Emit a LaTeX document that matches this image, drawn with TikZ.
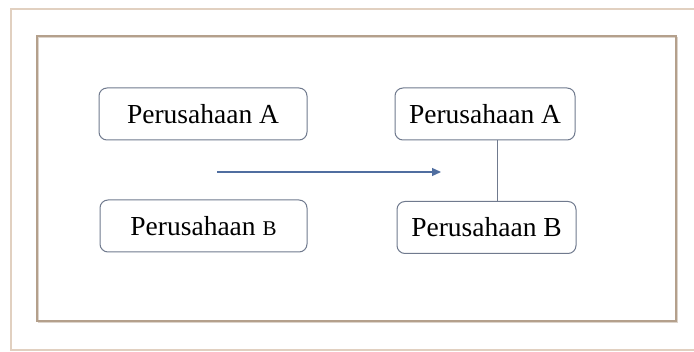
\documentclass[tikz,border=0pt]{standalone}
\usepackage{fontspec}
\setmainfont{Liberation Serif}
\usetikzlibrary{arrows.meta}
\definecolor{boxline}{RGB}{112,122,142}
\definecolor{arrowc}{RGB}{80,110,160}
\definecolor{frameo}{RGB}{225,208,192}
\definecolor{framei}{RGB}{180,160,140}
\begin{document}
\begin{tikzpicture}[x=1pt,y=-1pt,
  firm/.style={draw=boxline,line width=1pt,rounded corners=8pt,fill=white,
    minimum width=#1,minimum height=52pt,inner sep=0pt,font=\fontsize{27.5}{30}\selectfont},
  firm/.default=208pt]
\useasboundingbox (0,0) rectangle (694,352);
\fill[white] (0,0) rectangle (694,352);
\draw[frameo,line width=1.2pt] (11,9) rectangle (710,350);
\draw[framei!45,line width=1.5pt] (38.5,37.5) rectangle (677.5,322.5);
\draw[framei,line width=1.4pt] (37,36) rectangle (676,321);
\node[firm=208pt] (la) at (203,114) {Perusahaan A};
\node[firm=207pt] (lb) at (203.5,226) {Perusahaan {\fontsize{21}{24}\selectfont B}};
\node[firm=180pt] (ra) at (485,114) {Perusahaan A};
\node[firm=179pt] (rb) at (486.5,227.5) {Perusahaan B};
\coordinate (s) at (217,172);
\coordinate (e) at (441,172);
\draw[arrowc,line width=1.2pt,-{Triangle[length=9pt,width=8pt]}] (s) -- (e);
\draw[boxline,line width=1pt] (ra.south -| 497,0) -- (rb.north -| 497,0);
\end{tikzpicture}
\end{document}
